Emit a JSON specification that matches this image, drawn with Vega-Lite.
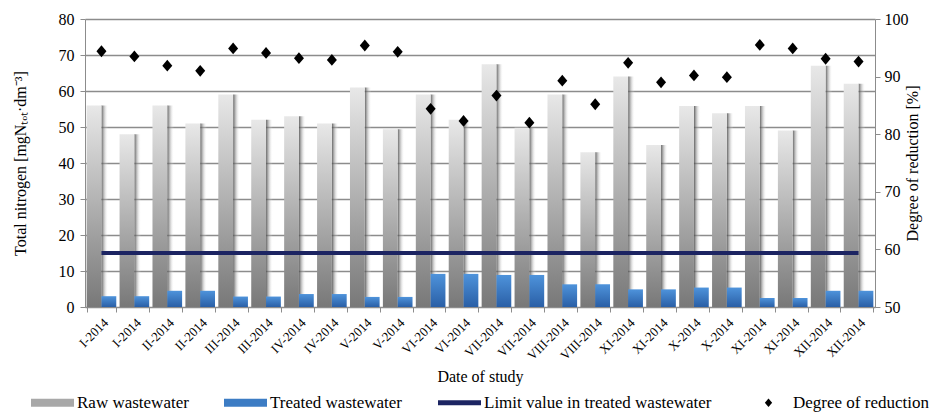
{
  "$schema": "https://vega.github.io/schema/vega-lite/v6.json",
  "width": 790,
  "height": 288,
  "autosize": "none",
  "padding": {"left": 85, "top": 19, "right": 57, "bottom": 106},
  "background": "white",
  "config": {
    "font": "Liberation Serif",
    "view": {"stroke": null},
    "axis": {"domainColor": "#8c8c8c", "tickColor": "#8c8c8c", "labelColor": "#000000", "titleColor": "#000000", "titleFontWeight": "normal", "labelFont": "Liberation Serif", "titleFont": "Liberation Serif"},
    "axisY": {"labelOverlap": false},
    "legend": {"labelFont": "Liberation Serif"}
  },
  "data": {
    "values": [
      {"sample": 1, "period": "I-2014", "raw": 56, "treated": 3.0, "reduction": 94.4, "limit": 15},
      {"sample": 2, "period": "I-2014", "raw": 48, "treated": 3.0, "reduction": 93.5, "limit": 15},
      {"sample": 3, "period": "II-2014", "raw": 56, "treated": 4.5, "reduction": 91.9, "limit": 15},
      {"sample": 4, "period": "II-2014", "raw": 51, "treated": 4.5, "reduction": 91.0, "limit": 15},
      {"sample": 5, "period": "III-2014", "raw": 59, "treated": 2.9, "reduction": 94.9, "limit": 15},
      {"sample": 6, "period": "III-2014", "raw": 52, "treated": 2.9, "reduction": 94.1, "limit": 15},
      {"sample": 7, "period": "IV-2014", "raw": 53, "treated": 3.6, "reduction": 93.2, "limit": 15},
      {"sample": 8, "period": "IV-2014", "raw": 51, "treated": 3.6, "reduction": 92.9, "limit": 15},
      {"sample": 9, "period": "V-2014", "raw": 61, "treated": 2.8, "reduction": 95.4, "limit": 15},
      {"sample": 10, "period": "V-2014", "raw": 49.4, "treated": 2.8, "reduction": 94.3, "limit": 15},
      {"sample": 11, "period": "VI-2014", "raw": 59, "treated": 9.2, "reduction": 84.4, "limit": 15},
      {"sample": 12, "period": "VI-2014", "raw": 52, "treated": 9.2, "reduction": 82.3, "limit": 15},
      {"sample": 13, "period": "VII-2014", "raw": 67.4, "treated": 8.9, "reduction": 86.7, "limit": 15},
      {"sample": 14, "period": "VII-2014", "raw": 49.8, "treated": 8.9, "reduction": 82.0, "limit": 15},
      {"sample": 15, "period": "VIII-2014", "raw": 59, "treated": 6.3, "reduction": 89.3, "limit": 15},
      {"sample": 16, "period": "VIII-2014", "raw": 43, "treated": 6.3, "reduction": 85.2, "limit": 15},
      {"sample": 17, "period": "XI-2014", "raw": 64, "treated": 4.9, "reduction": 92.4, "limit": 15},
      {"sample": 18, "period": "XI-2014", "raw": 45, "treated": 4.9, "reduction": 89.0, "limit": 15},
      {"sample": 19, "period": "X-2014", "raw": 55.8, "treated": 5.4, "reduction": 90.2, "limit": 15},
      {"sample": 20, "period": "X-2014", "raw": 53.8, "treated": 5.4, "reduction": 89.9, "limit": 15},
      {"sample": 21, "period": "XI-2014", "raw": 55.8, "treated": 2.5, "reduction": 95.5, "limit": 15},
      {"sample": 22, "period": "XI-2014", "raw": 49, "treated": 2.5, "reduction": 94.9, "limit": 15},
      {"sample": 23, "period": "XII-2014", "raw": 67, "treated": 4.5, "reduction": 93.1, "limit": 15},
      {"sample": 24, "period": "XII-2014", "raw": 62, "treated": 4.5, "reduction": 92.6, "limit": 15}
    ]
  },
  "layer": [
    {
      "layer": [
        {
          "mark": {"type": "bar", "color": {"gradient": "linear", "x1": 0, "y1": 0, "x2": 1, "y2": 0, "stops": [{"offset": 0, "color": "rgba(70,70,70,0.85)"}, {"offset": 0.45, "color": "rgba(255,255,255,0)"}]}},
          "encoding": {
            "x": {
              "field": "sample", "type": "ordinal",
              "scale": {"paddingInner": 0.1, "paddingOuter": 0.05},
              "axis": {
                "title": "Date of study", "titleFontSize": 16, "titlePadding": 6,
                "labelAngle": -45, "labelFontSize": 13, "labelPadding": 4,
                "tickBand": "extent", "tickSize": 5, "grid": false,
                "labelExpr": "['I-2014','I-2014','II-2014','II-2014','III-2014','III-2014','IV-2014','IV-2014','V-2014','V-2014','VI-2014','VI-2014','VII-2014','VII-2014','VIII-2014','VIII-2014','XI-2014','XI-2014','X-2014','X-2014','XI-2014','XI-2014','XII-2014','XII-2014'][datum.value - 1]"
              }
            },
            "xOffset": {"datum": "treated", "scale": {"domain": ["raw", "treated"], "paddingInner": 0, "paddingOuter": 0}},
            "y": {
              "field": "raw", "type": "quantitative",
              "scale": {"domain": [0, 80], "nice": false},
              "axis": {"title": "Total nitrogen [mgNₜₒₜ·dm⁻³]", "titleFontSize": 16, "titlePadding": 30, "values": [0, 10, 20, 30, 40, 50, 60, 70, 80], "tickCount": 12, "labelOverlap": false, "labelFontSize": 16, "labelPadding": 6, "tickSize": 5, "grid": true, "gridColor": "#8c8c8c", "gridWidth": 1.3}
            }
          }
        },
        {
          "transform": [{"fold": ["raw", "treated"], "as": ["series", "value"]}, {"filter": "datum.series === 'raw'"}],
          "mark": {"type": "bar", "color": {"gradient": "linear", "x1": 0, "y1": 0, "x2": 0, "y2": 1, "stops": [{"offset": 0, "color": "#e8e8e8"}, {"offset": 1, "color": "#787878"}]}},
          "encoding": {
            "x": {"field": "sample", "type": "ordinal"},
            "xOffset": {"field": "series", "type": "nominal"},
            "y": {"field": "value", "type": "quantitative", "axis": {"title": "Total nitrogen [mgNₜₒₜ·dm⁻³]", "titleFontSize": 16, "titlePadding": 30, "values": [0, 10, 20, 30, 40, 50, 60, 70, 80], "tickCount": 12, "labelOverlap": false, "labelFontSize": 16, "labelPadding": 6, "tickSize": 5, "grid": true, "gridColor": "#8c8c8c", "gridWidth": 1.3}}
          }
        },
        {
          "transform": [{"fold": ["raw", "treated"], "as": ["series", "value"]}, {"filter": "datum.series === 'treated'"}],
          "mark": {"type": "bar", "color": {"gradient": "linear", "x1": 0, "y1": 0, "x2": 0, "y2": 1, "stops": [{"offset": 0, "color": "#4e93db"}, {"offset": 1, "color": "#2a5fa6"}]}},
          "encoding": {
            "x": {"field": "sample", "type": "ordinal"},
            "xOffset": {"field": "series", "type": "nominal"},
            "y": {"field": "value", "type": "quantitative", "axis": {"title": "Total nitrogen [mgNₜₒₜ·dm⁻³]", "titleFontSize": 16, "titlePadding": 30, "values": [0, 10, 20, 30, 40, 50, 60, 70, 80], "tickCount": 12, "labelOverlap": false, "labelFontSize": 16, "labelPadding": 6, "tickSize": 5, "grid": true, "gridColor": "#8c8c8c", "gridWidth": 1.3}}
          }
        },
        {
          "mark": {"type": "line", "strokeWidth": 4, "color": "#1c2462"},
          "encoding": {
            "x": {"field": "sample", "type": "ordinal"},
            "y": {"field": "limit", "type": "quantitative", "axis": {"title": "Total nitrogen [mgNₜₒₜ·dm⁻³]", "titleFontSize": 16, "titlePadding": 30, "values": [0, 10, 20, 30, 40, 50, 60, 70, 80], "tickCount": 12, "labelOverlap": false, "labelFontSize": 16, "labelPadding": 6, "tickSize": 5, "grid": true, "gridColor": "#8c8c8c", "gridWidth": 1.3}}
          }
        }
      ]
    },
    {
      "mark": {"type": "point", "filled": true, "size": 3460, "opacity": 1},
      "encoding": {
        "x": {"field": "sample", "type": "ordinal"},
        "y": {
          "field": "reduction", "type": "quantitative",
          "scale": {"domain": [50, 100], "nice": false},
          "axis": {
            "orient": "right", "title": "Degree of reduction [%]", "titleFontSize": 16, "titleAngle": 270, "titlePadding": 12,
            "values": [50, 60, 70, 80, 90, 100], "tickCount": 12, "labelOverlap": false, "labelFontSize": 16, "labelPadding": 4, "tickSize": 5, "grid": false
          }
        },
        "shape": {
          "datum": "reduction",
          "scale": {"domain": ["raw", "treated", "limit", "reduction"], "range": ["M-1,-0.19H1V0.19H-1Z", "M-1,-0.19H1V0.19H-1Z", "M-1,-0.12H1V0.12H-1Z", "M0,-0.2L0.17,0L0,0.2L-0.17,0Z"]}
        },
        "color": {
          "datum": "reduction",
          "scale": {"domain": ["raw", "treated", "limit", "reduction"], "range": ["#a8a8a8", "#3c7cc4", "#1c2462", "#000000"]},
          "legend": {
            "title": null, "orient": "none", "legendX": -55, "legendY": 361, "direction": "horizontal",
            "labelFontSize": 17, "labelLimit": 400, "columnPadding": 34, "labelOffset": 2, "symbolSize": 1849,
            "labelExpr": "{'raw': 'Raw wastewater', 'treated': 'Treated wastewater', 'limit': 'Limit value in treated wastewater', 'reduction': 'Degree of reduction'}[datum.value]",
            "encode": {
              "symbols": {
                "size": {"value": 1849},
                "opacity": {"value": 1},
                "fill": {"value": {"signal": "datum.value === 'raw' ? {gradient: 'linear', x1: 0, y1: 0, x2: 0, y2: 1, stops: [{offset: 0, color: '#e2e2e2'}, {offset: 0.5, color: '#bdbdbd'}, {offset: 1, color: '#8a8a8a'}]} : datum.value === 'treated' ? {gradient: 'linear', x1: 0, y1: 0, x2: 0, y2: 1, stops: [{offset: 0, color: '#4e93db'}, {offset: 1, color: '#2a5fa6'}]} : datum.value === 'limit' ? '#1c2462' : '#000000'"}},
                "strokeWidth": {"value": 0}
              }
            }
          }
        }
      }
    }
  ],
  "resolve": {"scale": {"y": "independent"}}
}
